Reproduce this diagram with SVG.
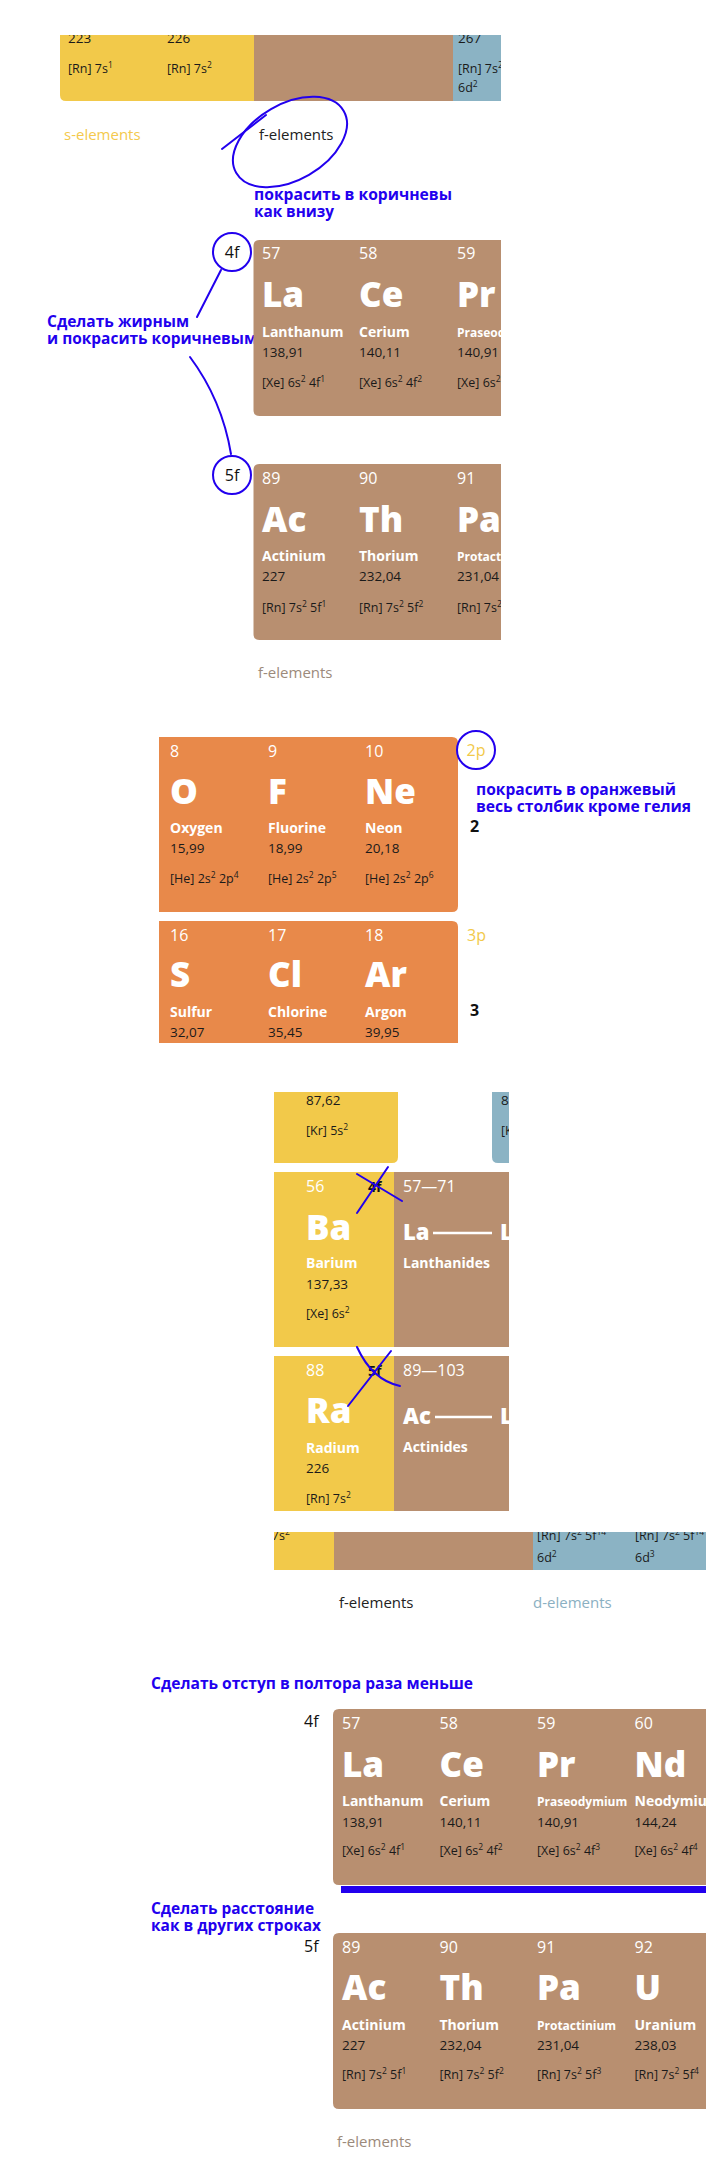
<svg xmlns="http://www.w3.org/2000/svg" width="706" height="2158" viewBox="0 0 706 2158">
<style>
text{font-family:"Open Sans","Noto Sans","Liberation Sans",sans-serif}
.num{font-size:16px;fill:#fff}
.sym{font-size:35px;font-weight:800;fill:#fff}
.sym2{font-size:22px;font-weight:800;fill:#fff}
.nm{font-size:14px;font-weight:700;fill:#fff}
.nms{font-size:12px;font-weight:700;fill:#fff}
.ms{font-size:13.5px;fill:#1a1a1a}
.cf{font-size:12.5px;fill:#1a1a1a}
.sp{font-size:8.5px}
.note{font-size:16px;font-weight:700;fill:#2200ee}
.lbl{font-size:15px}
.blk{font-size:16px;fill:#111}
.an{fill:none;stroke:#2200ee;stroke-width:2;stroke-linecap:round}
.yel{fill:#f2c94a}
.brn{fill:#b88f70}
.blu{fill:#8bb3c4}
.org{fill:#e8894a}
</style>
<defs>
<clipPath id="c1"><rect x="0" y="35" width="501" height="80"/></clipPath>
<clipPath id="c2"><rect x="0" y="200" width="501" height="460"/></clipPath>
<clipPath id="c3"><rect x="0" y="700" width="706" height="343"/></clipPath>
<clipPath id="c4"><rect x="0" y="1092" width="509" height="430"/></clipPath>
<clipPath id="c5"><rect x="274" y="1532" width="432" height="40"/></clipPath>
</defs>

<!-- Section 1 -->
<g id="top-row" clip-path="url(#c1)">
<path class="yel" d="M60,35H254V101H66Q60,101 60,95Z"/>
<rect class="brn" x="254" y="35" width="199" height="66"/>
<rect class="blu" x="453" y="35" width="60" height="66"/>
<text class="ms" x="68" y="43">223</text>
<text class="ms" x="167" y="43">226</text>
<text class="ms" x="458" y="43">267</text>
<text class="cf" x="68" y="73">[Rn] 7s<tspan class="sp" dy="-5">1</tspan></text>
<text class="cf" x="167" y="73">[Rn] 7s<tspan class="sp" dy="-5">2</tspan></text>
<text class="cf" x="458" y="73">[Rn] 7s<tspan class="sp" dy="-5">2</tspan><tspan dy="5"> 5f</tspan></text>
<text class="cf" x="458" y="92">6d<tspan class="sp" dy="-5">2</tspan></text>
</g>
<g id="labels-top">
<text class="lbl" x="64" y="140" fill="#f4c94c">s-elements</text>
<text class="lbl" x="259" y="140" fill="#222">f-elements</text>
<text class="lbl" x="454" y="140" fill="#8bb0c2" clip-path="url(#c2)">d-elements</text>
</g>
<g id="note-1">
<text class="note" x="254" y="200" textLength="198" lengthAdjust="spacingAndGlyphs">покрасить в коричневы</text>
<text class="note" x="254" y="217" textLength="80" lengthAdjust="spacingAndGlyphs">как внизу</text>
</g>

<!-- Section 2 -->
<g id="circle-4f">
<circle class="an" cx="232" cy="252" r="19"/>
<text class="blk" x="232" y="258" text-anchor="middle">4f</text>
</g>
<g id="note-2">
<text class="note" x="47" y="327" textLength="142" lengthAdjust="spacingAndGlyphs">Сделать жирным</text>
<text class="note" x="47" y="344" textLength="210" lengthAdjust="spacingAndGlyphs">и покрасить коричневым</text>
</g>
<g id="row-4f-a" clip-path="url(#c2)">
<path class="brn" d="M259.5,240H520V416H259.5Q253.5,416 253.5,410V246Q253.5,240 259.5,240Z"/>
<text class="num" x="262" y="259">57</text><text class="num" x="359" y="259">58</text><text class="num" x="457" y="259">59</text>
<text class="sym" x="262" y="307">La</text><text class="sym" x="359" y="307">Ce</text><text class="sym" x="457" y="307">Pr</text>
<text class="nm" x="262" y="337">Lanthanum</text><text class="nm" x="359" y="337">Cerium</text><text class="nms" x="457" y="337">Praseodymium</text>
<text class="ms" x="262" y="357">138,91</text><text class="ms" x="359" y="357">140,11</text><text class="ms" x="457" y="357">140,91</text>
<text class="cf" x="262" y="387">[Xe] 6s<tspan class="sp" dy="-5">2</tspan><tspan dy="5"> 4f</tspan><tspan class="sp" dy="-5">1</tspan></text>
<text class="cf" x="359" y="387">[Xe] 6s<tspan class="sp" dy="-5">2</tspan><tspan dy="5"> 4f</tspan><tspan class="sp" dy="-5">2</tspan></text>
<text class="cf" x="457" y="387">[Xe] 6s<tspan class="sp" dy="-5">2</tspan><tspan dy="5"> 4f</tspan><tspan class="sp" dy="-5">3</tspan></text>
</g>
<g id="circle-5f">
<circle class="an" cx="232" cy="475" r="19"/>
<text class="blk" x="232" y="481" text-anchor="middle">5f</text>
</g>
<g id="row-5f-a" clip-path="url(#c2)">
<path class="brn" d="M259.5,464H520V640H259.5Q253.5,640 253.5,634V470Q253.5,464 259.5,464Z"/>
<text class="num" x="262" y="484">89</text><text class="num" x="359" y="484">90</text><text class="num" x="457" y="484">91</text>
<text class="sym" x="262" y="532">Ac</text><text class="sym" x="359" y="532">Th</text><text class="sym" x="457" y="532">Pa</text>
<text class="nm" x="262" y="561">Actinium</text><text class="nm" x="359" y="561">Thorium</text><text class="nms" x="457" y="561">Protactinium</text>
<text class="ms" x="262" y="581">227</text><text class="ms" x="359" y="581">232,04</text><text class="ms" x="457" y="581">231,04</text>
<text class="cf" x="262" y="612">[Rn] 7s<tspan class="sp" dy="-5">2</tspan><tspan dy="5"> 5f</tspan><tspan class="sp" dy="-5">1</tspan></text>
<text class="cf" x="359" y="612">[Rn] 7s<tspan class="sp" dy="-5">2</tspan><tspan dy="5"> 5f</tspan><tspan class="sp" dy="-5">2</tspan></text>
<text class="cf" x="457" y="612">[Rn] 7s<tspan class="sp" dy="-5">2</tspan><tspan dy="5"> 5f</tspan><tspan class="sp" dy="-5">3</tspan></text>
</g>
<text class="lbl" x="258" y="678" fill="#9c8a7b">f-elements</text>

<!-- Section 3 -->
<g id="row-2p" clip-path="url(#c3)">
<path class="org" d="M159,737H452Q458,737 458,743V906Q458,912 452,912H159Z"/>
<text class="num" x="170" y="757">8</text><text class="num" x="268" y="757">9</text><text class="num" x="365" y="757">10</text>
<text class="sym" x="170" y="804">O</text><text class="sym" x="268" y="804">F</text><text class="sym" x="365" y="804">Ne</text>
<text class="nm" x="170" y="833">Oxygen</text><text class="nm" x="268" y="833">Fluorine</text><text class="nm" x="365" y="833">Neon</text>
<text class="ms" x="170" y="853">15,99</text><text class="ms" x="268" y="853">18,99</text><text class="ms" x="365" y="853">20,18</text>
<text class="cf" x="170" y="883">[He] 2s<tspan class="sp" dy="-5">2</tspan><tspan dy="5"> 2p</tspan><tspan class="sp" dy="-5">4</tspan></text>
<text class="cf" x="268" y="883">[He] 2s<tspan class="sp" dy="-5">2</tspan><tspan dy="5"> 2p</tspan><tspan class="sp" dy="-5">5</tspan></text>
<text class="cf" x="365" y="883">[He] 2s<tspan class="sp" dy="-5">2</tspan><tspan dy="5"> 2p</tspan><tspan class="sp" dy="-5">6</tspan></text>
</g>
<g id="circle-2p">
<circle class="an" cx="476" cy="750" r="19"/>
<text x="476" y="756" text-anchor="middle" font-size="16" fill="#f2c94a">2p</text>
</g>
<g id="note-3">
<text class="note" x="476" y="795" textLength="200" lengthAdjust="spacingAndGlyphs">покрасить в оранжевый</text>
<text class="note" x="476" y="812" textLength="215" lengthAdjust="spacingAndGlyphs">весь столбик кроме гелия</text>
</g>
<text x="470" y="832" font-size="16" font-weight="700" fill="#111">2</text>
<g id="row-3p" clip-path="url(#c3)">
<path class="org" d="M159,921H452Q458,921 458,927V1050H159Z"/>
<text class="num" x="170" y="941">16</text><text class="num" x="268" y="941">17</text><text class="num" x="365" y="941">18</text>
<text class="sym" x="170" y="987">S</text><text class="sym" x="268" y="987">Cl</text><text class="sym" x="365" y="987">Ar</text>
<text class="nm" x="170" y="1017">Sulfur</text><text class="nm" x="268" y="1017">Chlorine</text><text class="nm" x="365" y="1017">Argon</text>
<text class="ms" x="170" y="1037">32,07</text><text class="ms" x="268" y="1037">35,45</text><text class="ms" x="365" y="1037">39,95</text>
</g>
<text x="467" y="941" font-size="16" fill="#f2c94a">3p</text>
<text x="470" y="1016" font-size="16" font-weight="700" fill="#111">3</text>

<!-- Section 4 -->
<g id="row-5s" clip-path="url(#c4)">
<path class="yel" d="M274,1085H398V1157Q398,1163 392,1163H274Z"/>
<path class="blu" d="M492,1085H520V1163H498Q492,1163 492,1157Z"/>
<text class="ms" x="306" y="1105">87,62</text>
<text class="cf" x="306" y="1135">[Kr] 5s<tspan class="sp" dy="-5">2</tspan></text>
<text class="ms" x="501" y="1105">88,91</text>
<text class="cf" x="501" y="1135">[Kr] 5s<tspan class="sp" dy="-5">2</tspan></text>
</g>
<g id="cell-ba" clip-path="url(#c4)">
<rect class="yel" x="274" y="1172" width="120" height="175"/>
<rect class="brn" x="394" y="1172" width="130" height="175"/>
<text class="num" x="306" y="1192">56</text>
<text x="368" y="1192" font-size="14" font-weight="700" fill="#111">4f</text>
<text class="num" x="403" y="1192">57—71</text>
<text class="sym" x="306" y="1240">Ba</text>
<text class="sym2" x="403" y="1240">La</text>
<line x1="433" y1="1233" x2="492" y2="1233" stroke="#fff" stroke-width="2.5"/>
<text class="sym2" x="500" y="1240">Lu</text>
<text class="nm" x="306" y="1268">Barium</text>
<text class="nm" x="403" y="1268">Lanthanides</text>
<text class="ms" x="306" y="1289">137,33</text>
<text class="cf" x="306" y="1318">[Xe] 6s<tspan class="sp" dy="-5">2</tspan></text>
</g>
<g id="cell-ra" clip-path="url(#c4)">
<rect class="yel" x="274" y="1356" width="120" height="155"/>
<rect class="brn" x="394" y="1356" width="130" height="155"/>
<text class="num" x="306" y="1376">88</text>
<text x="368" y="1376" font-size="14" font-weight="700" fill="#111">5f</text>
<text class="num" x="403" y="1376">89—103</text>
<text class="sym" x="306" y="1423">Ra</text>
<text class="sym2" x="403" y="1424">Ac</text>
<line x1="435" y1="1417" x2="492" y2="1417" stroke="#fff" stroke-width="2.5"/>
<text class="sym2" x="500" y="1424">Lr</text>
<text class="nm" x="306" y="1453">Radium</text>
<text class="nm" x="403" y="1452">Actinides</text>
<text class="ms" x="306" y="1473">226</text>
<text class="cf" x="306" y="1503">[Rn] 7s<tspan class="sp" dy="-5">2</tspan></text>
</g>
<g id="row-7-strip" clip-path="url(#c5)">
<rect class="yel" x="270" y="1532" width="64" height="38"/>
<rect class="brn" x="334" y="1532" width="199" height="38"/>
<rect class="blu" x="533" y="1532" width="173" height="38"/>
<text class="cf" x="245" y="1540">[Rn] 7s<tspan class="sp" dy="-5">2</tspan></text>
<text class="cf" x="537" y="1540">[Rn] 7s<tspan class="sp" dy="-5">2</tspan><tspan dy="5"> 5f</tspan><tspan class="sp" dy="-5">14</tspan></text>
<text class="cf" x="537" y="1562">6d<tspan class="sp" dy="-5">2</tspan></text>
<text class="cf" x="635" y="1540">[Rn] 7s<tspan class="sp" dy="-5">2</tspan><tspan dy="5"> 5f</tspan><tspan class="sp" dy="-5">14</tspan></text>
<text class="cf" x="635" y="1562">6d<tspan class="sp" dy="-5">3</tspan></text>
</g>
<text class="lbl" x="339" y="1608" fill="#222">f-elements</text>
<text class="lbl" x="533" y="1608" fill="#8bb0c2">d-elements</text>

<!-- Section 5 -->
<g id="note-4">
<text class="note" x="151" y="1689" textLength="322" lengthAdjust="spacingAndGlyphs">Сделать отступ в полтора раза меньше</text>
</g>
<text class="blk" x="304" y="1727">4f</text>
<g id="row-4f-b">
<path class="brn" d="M339,1709H706V1885H339Q333,1885 333,1879V1715Q333,1709 339,1709Z"/>
<text class="num" x="342" y="1729">57</text><text class="num" x="439.5" y="1729">58</text><text class="num" x="537" y="1729">59</text><text class="num" x="634.5" y="1729">60</text>
<text class="sym" x="342" y="1777">La</text><text class="sym" x="439.5" y="1777">Ce</text><text class="sym" x="537" y="1777">Pr</text><text class="sym" x="634.5" y="1777">Nd</text>
<text class="nm" x="342" y="1806">Lanthanum</text><text class="nm" x="439.5" y="1806">Cerium</text><text class="nms" x="537" y="1806">Praseodymium</text><text class="nm" x="634.5" y="1806">Neodymium</text>
<text class="ms" x="342" y="1827">138,91</text><text class="ms" x="439.5" y="1827">140,11</text><text class="ms" x="537" y="1827">140,91</text><text class="ms" x="634.5" y="1827">144,24</text>
<text class="cf" x="342" y="1855">[Xe] 6s<tspan class="sp" dy="-5">2</tspan><tspan dy="5"> 4f</tspan><tspan class="sp" dy="-5">1</tspan></text>
<text class="cf" x="439.5" y="1855">[Xe] 6s<tspan class="sp" dy="-5">2</tspan><tspan dy="5"> 4f</tspan><tspan class="sp" dy="-5">2</tspan></text>
<text class="cf" x="537" y="1855">[Xe] 6s<tspan class="sp" dy="-5">2</tspan><tspan dy="5"> 4f</tspan><tspan class="sp" dy="-5">3</tspan></text>
<text class="cf" x="634.5" y="1855">[Xe] 6s<tspan class="sp" dy="-5">2</tspan><tspan dy="5"> 4f</tspan><tspan class="sp" dy="-5">4</tspan></text>
</g>
<rect id="blue-bar" x="341" y="1886" width="365" height="7" fill="#2200ee"/>
<g id="note-5">
<text class="note" x="151" y="1914" textLength="163" lengthAdjust="spacingAndGlyphs">Сделать расстояние</text>
<text class="note" x="151" y="1931" textLength="170" lengthAdjust="spacingAndGlyphs">как в других строках</text>
</g>
<text class="blk" x="304" y="1952">5f</text>
<g id="row-5f-b">
<path class="brn" d="M339,1933H706V2109H339Q333,2109 333,2103V1939Q333,1933 339,1933Z"/>
<text class="num" x="342" y="1953">89</text><text class="num" x="439.5" y="1953">90</text><text class="num" x="537" y="1953">91</text><text class="num" x="634.5" y="1953">92</text>
<text class="sym" x="342" y="2000">Ac</text><text class="sym" x="439.5" y="2000">Th</text><text class="sym" x="537" y="2000">Pa</text><text class="sym" x="634.5" y="2000">U</text>
<text class="nm" x="342" y="2030">Actinium</text><text class="nm" x="439.5" y="2030">Thorium</text><text class="nms" x="537" y="2030">Protactinium</text><text class="nm" x="634.5" y="2030">Uranium</text>
<text class="ms" x="342" y="2050">227</text><text class="ms" x="439.5" y="2050">232,04</text><text class="ms" x="537" y="2050">231,04</text><text class="ms" x="634.5" y="2050">238,03</text>
<text class="cf" x="342" y="2079">[Rn] 7s<tspan class="sp" dy="-5">2</tspan><tspan dy="5"> 5f</tspan><tspan class="sp" dy="-5">1</tspan></text>
<text class="cf" x="439.5" y="2079">[Rn] 7s<tspan class="sp" dy="-5">2</tspan><tspan dy="5"> 5f</tspan><tspan class="sp" dy="-5">2</tspan></text>
<text class="cf" x="537" y="2079">[Rn] 7s<tspan class="sp" dy="-5">2</tspan><tspan dy="5"> 5f</tspan><tspan class="sp" dy="-5">3</tspan></text>
<text class="cf" x="634.5" y="2079">[Rn] 7s<tspan class="sp" dy="-5">2</tspan><tspan dy="5"> 5f</tspan><tspan class="sp" dy="-5">4</tspan></text>
</g>
<text class="lbl" x="337" y="2147" fill="#9c8a7b">f-elements</text>

<!-- annotation strokes -->
<g id="connectors">
<ellipse class="an" cx="290" cy="142" rx="62" ry="38" transform="rotate(-30 290 142)"/>
<path class="an" d="M222,149L266,115"/>
<path class="an" d="M221,270L197,317"/>
<path class="an" d="M190,357Q222,400 231,454"/>
<path class="an" d="M357,1174L402,1201"/>
<path class="an" d="M388,1167L357,1213"/>
<path class="an" d="M357,1347Q372,1380 400,1386"/>
<path class="an" d="M391,1351L348,1406"/>
</g>
</svg>
